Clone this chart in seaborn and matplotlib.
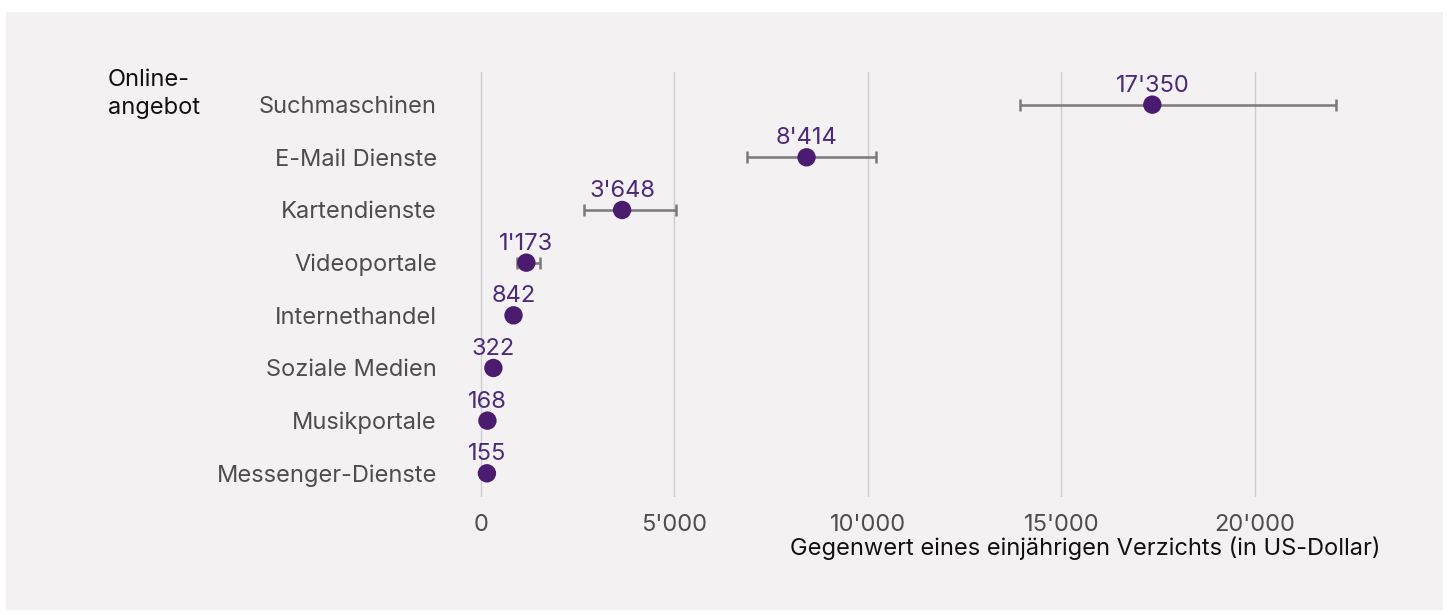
import matplotlib
matplotlib.use("Agg")
import matplotlib.pyplot as plt
from matplotlib.patches import Rectangle
import seaborn as sns
import pandas as pd

categories = ["Suchmaschinen", "E-Mail Dienste", "Kartendienste", "Videoportale",
              "Internethandel", "Soziale Medien", "Musikportale", "Messenger-Dienste"]
values = [17350, 8414, 3648, 1173, 842, 322, 168, 155]
ci_low = [13940, 6870, 2675, 930, 842, 322, 168, 155]
ci_high = [22100, 10215, 5036, 1515, 842, 322, 168, 155]
value_labels = ["17'350", "8'414", "3'648", "1'173", "842", "322", "168", "155"]
xticks = [0, 5000, 10000, 15000, 20000]
xtick_labels = ["0", "5'000", "10'000", "15'000", "20'000"]

df = pd.DataFrame({"angebot": categories, "wert": values, "lo": ci_low, "hi": ci_high})

sns.set_style("white")
plt.rcParams["font.family"] = ["Inter", "DejaVu Sans"]

bg = "#f3f1f2"
dot = "#4b1b6f"
fs = 17
fig = plt.figure(figsize=(14.49, 6.15), dpi=100)
fig.patch.set_facecolor("white")
fig.patches.append(Rectangle((6 / 1449, 5 / 615), 1437 / 1449, 598 / 615,
                             transform=fig.transFigure, facecolor=bg, edgecolor="none", zorder=-5))

ax = fig.add_axes([455 / 1449, (615 - 497) / 615, (1400 - 455) / 1449, (497 - 72) / 615])
ax.set_facecolor(bg)

ypos = list(range(len(categories)))
ax.errorbar(df["wert"], ypos, xerr=[df["wert"] - df["lo"], df["hi"] - df["wert"]],
            fmt="none", ecolor="#7a7a7a", elinewidth=1.8, capsize=4, capthick=1.8, zorder=2)
sns.scatterplot(x=df["wert"], y=ypos, ax=ax, color=dot, s=175, edgecolor="none", zorder=3, legend=False)

for y, v, lab in zip(ypos, values, value_labels):
    ax.text(v, y - 0.36, lab, ha="center", va="center", fontsize=fs, color="#4b2a78")

ax.set_ylim(len(categories) - 0.55, -0.62)
ax.set_xlim(-670, 23750)
ax.set_yticks(ypos)
ax.set_yticklabels(categories, fontsize=fs, color="#4d4d4d")
ax.set_xticks(xticks)
ax.set_xticklabels(xtick_labels, fontsize=fs, color="#4d4d4d")
ax.tick_params(axis="both", length=0)
ax.tick_params(axis="x", pad=12)
ax.tick_params(axis="y", pad=13)
for x in xticks:
    ax.axvline(x, color="#cfcdcf", lw=1.0, zorder=1)
for s in ax.spines.values():
    s.set_visible(False)
ax.set_xlabel("")
ax.set_ylabel("")

fig.text(1380 / 1449, (615 - 548) / 615, "Gegenwert eines einjährigen Verzichts (in US-Dollar)",
         ha="right", va="center", fontsize=fs, color="#111111")
fig.text(108 / 1449, (615 - 94) / 615, "Online-\nangebot", ha="left", va="center",
         fontsize=fs, color="#111111", linespacing=1.35)

fig.savefig("out.png", dpi=100, facecolor=fig.get_facecolor())
